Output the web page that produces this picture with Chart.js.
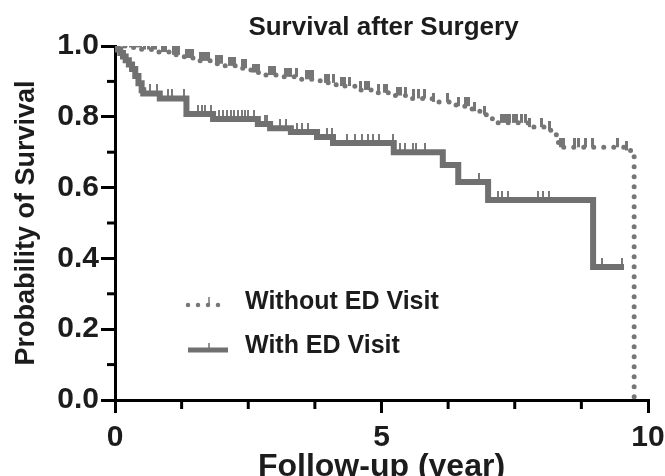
<!DOCTYPE html>
<html>
<head>
<meta charset="utf-8">
<script src="https://cdn.jsdelivr.net/npm/chart.js@4.4.1/dist/chart.umd.min.js"></script>
<style>
  html, body { margin: 0; padding: 0; background: #fff; }
  #wrap { width: 665px; height: 476px; }
</style>
</head>
<body>
<div id="wrap"><canvas id="km"></canvas></div>
<script>
// Kaplan-Meier steps (time in years, survival probability)
var noEdTime = [0, 0.25, 0.5, 0.8, 1.05, 1.3, 1.55, 1.8, 2.05, 2.3, 2.55, 2.8, 3.1, 3.5, 3.85, 4.15, 4.5, 4.85, 5.2, 5.55, 5.95, 6.4, 6.7, 6.85, 6.97, 7.08, 7.75, 8.05, 8.2, 8.28, 8.32, 9.55, 9.74];
var noEdSurv = [1.0, 0.996, 0.99, 0.983, 0.975, 0.966, 0.958, 0.95, 0.944, 0.937, 0.925, 0.918, 0.913, 0.906, 0.896, 0.887, 0.876, 0.868, 0.86, 0.852, 0.842, 0.83, 0.816, 0.806, 0.797, 0.783, 0.771, 0.762, 0.75, 0.73, 0.714, 0.705, 0.0];
var noEdCensor = [0.08, 0.15, 0.22, 0.3, 0.36, 0.42, 0.48, 0.55, 0.62, 0.7, 0.76, 0.9, 0.95, 1.1, 1.15, 1.2, 1.35, 1.4, 1.45, 1.6, 1.65, 1.7, 1.75, 1.9, 1.95, 2.0, 2.15, 2.2, 2.25, 2.4, 2.45, 2.6, 2.65, 2.7, 2.9, 2.95, 3.0, 3.2, 3.25, 3.3, 3.4, 3.6, 3.65, 3.7, 3.95, 4.0, 4.1, 4.25, 4.3, 4.4, 4.6, 4.7, 4.75, 4.95, 5.05, 5.1, 5.3, 5.35, 5.45, 5.6, 5.7, 5.8, 5.98, 6.23, 6.44, 6.57, 6.63, 6.75, 6.94, 7.26, 7.31, 7.36, 7.41, 7.48, 7.54, 7.62, 7.7, 7.78, 8.0, 8.16, 8.36, 8.42, 8.63, 8.69, 8.82, 8.95, 9.42, 9.6];

var edTime = [0, 0.05, 0.1, 0.15, 0.2, 0.26, 0.32, 0.38, 0.44, 0.5, 0.53, 0.84, 1.34, 1.84, 2.68, 2.91, 3.3, 3.79, 4.09, 5.23, 6.15, 6.44, 7.0, 8.97, 9.55];
var edSurv = [1.0, 0.99, 0.98, 0.97, 0.96, 0.948, 0.935, 0.915, 0.895, 0.875, 0.866, 0.852, 0.808, 0.794, 0.78, 0.768, 0.757, 0.743, 0.726, 0.70, 0.664, 0.616, 0.565, 0.376, 0.376];
var edCensor = [0.66, 0.78, 0.99, 1.07, 1.3, 1.56, 1.63, 1.69, 1.8, 1.95, 2.02, 2.1, 2.17, 2.24, 2.31, 2.38, 2.44, 2.5, 2.61, 2.81, 2.86, 3.1, 3.2, 3.41, 3.51, 3.62, 3.98, 4.07, 4.13, 4.35, 4.5, 4.63, 4.75, 4.84, 4.95, 5.21, 5.35, 5.44, 5.59, 5.65, 5.82, 6.82, 7.19, 7.27, 7.38, 7.94, 8.03, 8.15, 9.14, 9.51];

var seriesNames = ['Without ED Visit', 'With ED Visit'];
var chartTitle = 'Survival after Surgery';
var xTitle = 'Follow-up (year)';
var yTitle = 'Probability of Survival';

var grey = '#767676';
var darkGrey = '#707070';
var ink = '#1c1c1c';
var fontFam = '"Liberation Sans", Arial, Helvetica, sans-serif';

function steps(times, surv) {
    return times.map(function (t, i) { return {x: t, y: surv[i]}; });
}

// survival value of the step curve at a censoring time
function survAt(times, surv, t) {
    var s = surv[0];
    for (var i = 0; i < times.length; i++) {
        if (times[i] <= t) s = surv[i];
    }
    return s;
}

function censorPoints(list, times, surv) {
    return list.map(function (t) { return {x: t, y: survAt(times, surv, t)}; });
}

// little vertical tick that sits on top of the curve
function tickImage(w, h, color) {
    var c = document.createElement('canvas');
    c.width = w;
    c.height = h * 2;
    var g = c.getContext('2d');
    g.fillStyle = color;
    g.fillRect(0, 0, w, h);
    return c;
}

var titlePlugin = {
    id: 'kmDecor',
    afterDraw: function (chart) {
        var ctx = chart.ctx;
        var area = chart.chartArea;
        ctx.save();
        ctx.fillStyle = ink;
        ctx.font = 'bold 26px ' + fontFam;
        ctx.textAlign = 'center';
        ctx.textBaseline = 'middle';
        ctx.fillText(chartTitle, (area.left + area.right) / 2 + 2, 28);

        // minor ticks
        var xs = chart.scales.x, ys = chart.scales.y;
        ctx.strokeStyle = '#000';
        ctx.lineWidth = 3;
        ys.ticks.forEach(function (t, i) {
            if (i % 2 === 1) {
                var py = ys.getPixelForValue(t.value);
                ctx.beginPath();
                ctx.moveTo(area.left - 8, py);
                ctx.lineTo(area.left, py);
                ctx.stroke();
            }
        });
        xs.ticks.forEach(function (t, i) {
            if (i % 4 !== 0) {
                var px = xs.getPixelForValue(t.value);
                ctx.beginPath();
                ctx.moveTo(px, area.bottom);
                ctx.lineTo(px, area.bottom + 9);
                ctx.stroke();
            }
        });

        // legend inside the plot
        var lx = 188, lw = 40;
        ctx.font = 'bold 25px ' + fontFam;
        ctx.textAlign = 'left';
        ctx.fillStyle = ink;
        ctx.fillText(seriesNames[0], 245, 302);
        ctx.fillText(seriesNames[1], 245, 346);

        ctx.strokeStyle = grey;
        ctx.lineWidth = 4.5;
        ctx.lineCap = 'round';
        ctx.setLineDash([0, 10]);
        ctx.beginPath();
        ctx.moveTo(lx, 305);
        ctx.lineTo(lx + lw, 305);
        ctx.stroke();
        ctx.setLineDash([]);
        ctx.lineCap = 'butt';
        ctx.lineWidth = 1.5;
        ctx.beginPath();
        ctx.moveTo(lx + 21, 305);
        ctx.lineTo(lx + 21, 297);
        ctx.stroke();

        ctx.strokeStyle = darkGrey;
        ctx.lineWidth = 5;
        ctx.beginPath();
        ctx.moveTo(lx, 350);
        ctx.lineTo(lx + lw, 350);
        ctx.stroke();
        ctx.lineWidth = 1.5;
        ctx.beginPath();
        ctx.moveTo(lx + 21, 350);
        ctx.lineTo(lx + 21, 343);
        ctx.stroke();
        ctx.restore();
    }
};

var ctx = document.getElementById('km').getContext('2d');
var chart = new Chart(ctx, {
    type: 'line',
    data: {
        datasets: [{
            label: seriesNames[0],
            data: steps(noEdTime, noEdSurv),
            stepped: true,
            borderColor: grey,
            borderWidth: 5,
            borderDash: [0, 10],
            borderCapStyle: 'round',
            pointRadius: 0,
            fill: false
        }, {
            label: seriesNames[1],
            data: steps(edTime, edSurv),
            stepped: true,
            borderColor: darkGrey,
            borderWidth: 6,
            borderJoinStyle: 'miter',
            pointRadius: 0,
            fill: false
        }, {
            label: 'censor0',
            data: censorPoints(noEdCensor, noEdTime, noEdSurv),
            showLine: false,
            pointStyle: tickImage(3, 9, grey),
            pointRadius: 3
        }, {
            label: 'censor1',
            data: censorPoints(edCensor, edTime, edSurv),
            showLine: false,
            pointStyle: tickImage(2, 9, '#7a7a7a'),
            pointRadius: 3
        }]
    },
    options: {
        responsive: true,
        maintainAspectRatio: false,
        animation: false,
        events: [],
        layout: {padding: {top: 46, right: 17, left: 0, bottom: 0}},
        plugins: {
            legend: {display: false},
            tooltip: {enabled: false},
            title: {display: false}
        },
        scales: {
            x: {
                type: 'linear',
                min: 0,
                max: 10,
                afterFit: function (s) { s.height = 76; s.paddingLeft = 0; s.paddingRight = 0; },
                border: {color: '#000', width: 3},
                grid: {
                    drawOnChartArea: false,
                    tickLength: 13,
                    lineWidth: 3,
                    tickColor: function (c) { return c.index % 4 === 0 ? '#000' : 'rgba(0,0,0,0)'; }
                },
                ticks: {
                    stepSize: 1.25,
                    autoSkip: false,
                    maxRotation: 0,
                    padding: 7,
                    color: ink,
                    font: {family: fontFam, size: 30, weight: 'bold'},
                    callback: function (v, i) { return i % 4 === 0 ? String(v) : ''; }
                },
                title: {
                    display: true,
                    text: xTitle,
                    color: ink,
                    padding: 0,
                    font: {family: fontFam, size: 32, weight: 'bold', lineHeight: 0.55}
                }
            },
            y: {
                type: 'linear',
                min: 0,
                max: 1,
                afterFit: function (s) { s.width = 115; s.paddingTop = 0; s.paddingBottom = 0; },
                border: {color: '#000', width: 3},
                grid: {
                    drawOnChartArea: false,
                    tickLength: 14,
                    lineWidth: 3,
                    tickColor: function (c) { return c.index % 2 === 0 ? '#000' : 'rgba(0,0,0,0)'; }
                },
                ticks: {
                    stepSize: 0.1,
                    autoSkip: false,
                    padding: 2,
                    color: ink,
                    font: {family: fontFam, size: 30, weight: 'bold'},
                    callback: function (v, i) { return i % 2 === 0 ? v.toFixed(1) : ''; }
                },
                title: {
                    display: true,
                    text: yTitle,
                    color: ink,
                    padding: {top: 10, bottom: 0},
                    font: {family: fontFam, size: 27, weight: 'bold', lineHeight: 1.2}
                }
            }
        }
    },
    plugins: [titlePlugin]
});
</script>
</body>
</html>
